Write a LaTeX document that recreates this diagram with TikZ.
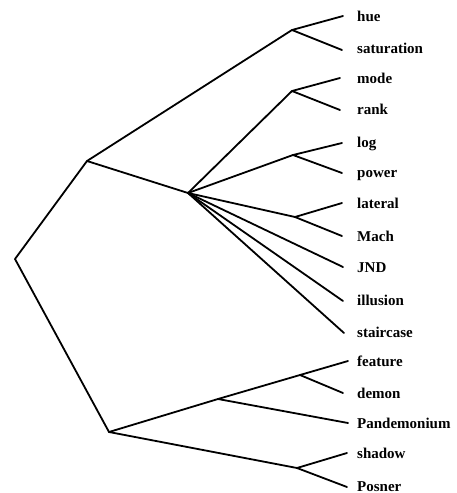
\documentclass[tikz,border=0pt]{standalone}
\usepackage{fontspec}
\setmainfont{Liberation Serif}
\begin{document}
\begin{tikzpicture}[x=1pt,y=-1pt,
  branch/.style={line width=1.8pt,line cap=round,line join=round},
  leaf/.style={anchor=base west,inner sep=0pt,font=\fontsize{15}{17}\selectfont\bfseries}]
\useasboundingbox (0,0) rectangle (456,493);
% internal points
\coordinate (R) at (15,259);
\coordinate (A) at (87,161);
\coordinate (H) at (188,193);
\coordinate (B) at (109,432);
\coordinate (j1) at (292,30);
\coordinate (j2) at (292,91);
\coordinate (j3) at (293,155);
\coordinate (j4) at (295,217);
\coordinate (j5) at (218,399);
\coordinate (j6) at (300,375);
\coordinate (j7) at (297,468);
% leaf ends
\coordinate (e1) at (343,16);
\coordinate (e2) at (342,50);
\coordinate (e3) at (340,78);
\coordinate (e4) at (340,110);
\coordinate (e5) at (342,143);
\coordinate (e6) at (342,173);
\coordinate (e7) at (342,203);
\coordinate (e8) at (342,236);
\coordinate (e9) at (343,267);
\coordinate (e10) at (343,301);
\coordinate (e11) at (344,333);
\coordinate (e12) at (348,361);
\coordinate (e13) at (343,393);
\coordinate (e14) at (348,423);
\coordinate (e15) at (347,453);
\coordinate (e16) at (347,487);
% labels
\node[leaf] (l1) at (357,21) {hue};
\node[leaf] (l2) at (357,53) {saturation};
\node[leaf] (l3) at (357,83) {mode};
\node[leaf] (l4) at (357,114) {rank};
\node[leaf] (l5) at (357,147) {log};
\node[leaf] (l6) at (357,177) {power};
\node[leaf] (l7) at (357,208) {lateral};
\node[leaf] (l8) at (357,241) {Mach};
\node[leaf] (l9) at (357,272) {JND};
\node[leaf] (l10) at (357,305) {illusion};
\node[leaf] (l11) at (357,337) {staircase};
\node[leaf] (l12) at (357,366) {feature};
\node[leaf] (l13) at (357,398) {demon};
\node[leaf] (l14) at (357,428) {Pandemonium};
\node[leaf] (l15) at (357,458) {shadow};
\node[leaf] (l16) at (357,491) {Posner};
% branches
\draw[branch] (B) -- (R) -- (A) -- (j1);
\draw[branch] (A) -- (H);
\draw[branch] (e1) -- (j1) -- (e2);
\draw[branch] (H) -- (j2);
\draw[branch] (e3) -- (j2) -- (e4);
\draw[branch] (H) -- (j3);
\draw[branch] (e5) -- (j3) -- (e6);
\draw[branch] (H) -- (j4);
\draw[branch] (e7) -- (j4) -- (e8);
\draw[branch] (H) -- (e9);
\draw[branch] (H) -- (e10);
\draw[branch] (H) -- (e11);
\draw[branch] (B) -- (j5) -- (j6) -- (e12);
\draw[branch] (j6) -- (e13);
\draw[branch] (j5) -- (e14);
\draw[branch] (B) -- (j7);
\draw[branch] (e15) -- (j7) -- (e16);
\end{tikzpicture}
\end{document}
